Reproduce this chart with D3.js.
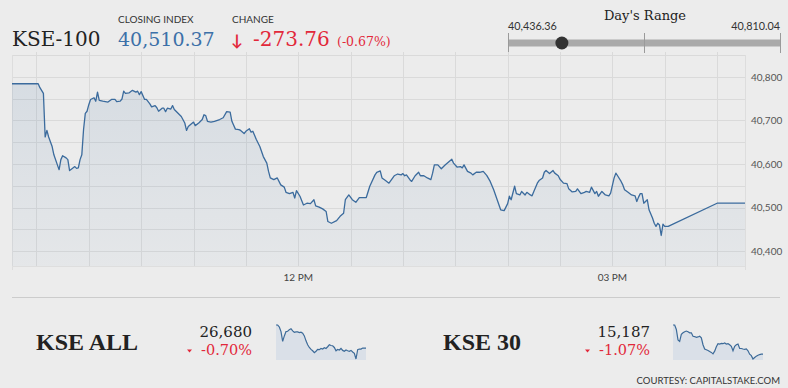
<!DOCTYPE html>
<html lang="en">
<head>
  <meta charset="utf-8">
  <title>KSE-100</title>
  <script src="https://d3js.org/d3.v7.min.js"></script>
  <style>
    body { margin: 0; background: #ececec; }
    svg { display: block; }
    .sans { font-family: Lato, "Open Sans", sans-serif; }
    .serif { font-family: "DejaVu Serif", serif; }
  </style>
</head>
<body>
  <svg id="chart" width="788" height="388"></svg>

<script>
  // intraday KSE-100 points [time, index]
  const kse100 = [
    ["09:16",40784],["09:31",40784],["09:32",40775],["09:34",40762],["09:35",40662],["09:36",40677],["09:37",40662],
    ["09:39",40640],["09:40",40621],["09:42",40598],["09:43",40587],["09:44",40610],["09:45",40619],["09:47",40614],
    ["09:48",40610],["09:49",40585],["09:50",40588],["09:52",40594],["09:53",40590],["09:54",40591],["09:55",40610],
    ["09:56",40621],["09:57",40679],["09:58",40716],["09:59",40721],["10:00",40736],["10:01",40748],["10:03",40752],
    ["10:04",40744],["10:05",40765],["10:06",40746],["10:08",40744],["10:11",40742],["10:13",40748],["10:15",40748],
    ["10:16",40743],["10:18",40744],["10:19",40749],["10:20",40767],["10:21",40762],["10:23",40763],["10:25",40769],
    ["10:27",40765],["10:28",40767],["10:29",40759],["10:30",40766],["10:32",40748],["10:33",40748],["10:35",40738],
    ["10:36",40731],["10:38",40734],["10:39",40729],["10:40",40721],["10:42",40728],["10:43",40728],["10:44",40720],
    ["10:45",40728],["10:47",40726],["10:48",40734],["10:49",40725],["10:51",40717],["10:53",40709],["10:55",40694],
    ["10:56",40677],["10:57",40686],["10:59",40693],["11:00",40696],["11:01",40688],["11:03",40694],["11:05",40702],
    ["11:06",40713],["11:07",40711],["11:08",40698],["11:10",40696],["11:12",40698],["11:15",40702],["11:17",40706],
    ["11:19",40720],["11:21",40719],["11:22",40698],["11:24",40680],["11:26",40679],["11:27",40677],["11:29",40670],
    ["11:30",40675],["11:32",40681],["11:33",40673],["11:34",40675],["11:36",40656],["11:38",40640],["11:40",40617],
    ["11:42",40602],["11:43",40583],["11:44",40568],["11:46",40564],["11:48",40568],["11:50",40552],["11:52",40547],
    ["11:53",40535],["11:55",40532],["11:57",40535],["11:58",40522],["11:59",40539],["12:01",40526],["12:03",40506],
    ["12:05",40510],["12:07",40509],["12:09",40518],["12:10",40504],["12:12",40501],["12:14",40497],["12:16",40491],
    ["12:17",40468],["12:19",40464],["12:22",40470],["12:24",40480],["12:26",40487],["12:27",40518],["12:29",40529],
    ["12:31",40518],["12:33",40512],["12:35",40523],["12:39",40523],["12:41",40549],["12:44",40575],["12:45",40581],
    ["12:47",40584],["12:48",40568],["12:50",40562],["12:52",40556],["12:55",40573],["12:57",40577],["12:59",40575],
    ["13:00",40578],["13:01",40573],["13:02",40575],["13:04",40564],["13:05",40560],["13:07",40573],["13:09",40581],
    ["13:10",40573],["13:12",40573],["13:14",40568],["13:16",40564],["13:17",40579],["13:18",40598],["13:20",40598],
    ["13:22",40589],["13:24",40597],["13:26",40604],["13:28",40611],["13:29",40602],["13:31",40593],["13:33",40594],
    ["13:34",40591],["13:35",40598],["13:37",40583],["13:39",40579],["13:40",40575],["13:42",40581],["13:44",40581],
    ["13:46",40583],["13:48",40574],["13:50",40560],["13:52",40541],["13:54",40518],["13:56",40495],["13:58",40493],
    ["14:00",40509],["14:01",40526],["14:02",40518],["14:04",40549],["14:05",40532],["14:07",40529],["14:08",40537],
    ["14:10",40529],["14:11",40535],["14:13",40529],["14:14",40527],["14:15",40537],["14:17",40556],["14:18",40562],
    ["14:20",40568],["14:21",40581],["14:22",40585],["14:24",40578],["14:26",40585],["14:27",40579],["14:29",40573],
    ["14:30",40565],["14:32",40556],["14:34",40555],["14:35",40543],["14:37",40536],["14:39",40537],["14:40",40543],
    ["14:42",40532],["14:44",40535],["14:45",40537],["14:47",40535],["14:48",40547],["14:50",40532],["14:51",40537],
    ["14:52",40526],["14:54",40537],["14:56",40529],["14:58",40527],["14:59",40533],["15:01",40568],["15:02",40579],
    ["15:03",40573],["15:05",40560],["15:06",40552],["15:07",40541],["15:09",40535],["15:11",40529],["15:13",40527],
    ["15:14",40514],["15:15",40524],["15:16",40532],["15:17",40532],["15:18",40510],["15:20",40518],["15:21",40495],
    ["15:23",40476],["15:24",40464],["15:25",40457],["15:26",40464],["15:27",40460],["15:28",40436],["15:29",40462],
    ["15:30",40457],["15:32",40457],["16:00",40510],["16:16",40510]
  ];

  // sparklines (evenly spaced through the day)
  const kseAll = [26868,26868,26852,26814,26734,26779,26814,26817,26830,26838,26820,26809,26812,26812,26806,26809,
    26801,26779,26739,26707,26685,26669,26658,26642,26654,26669,26667,26677,26672,26683,26677,26691,26707,26701,
    26699,26685,26658,26669,26664,26677,26661,26654,26664,26658,26654,26661,26648,26637,26591,26667,26672,26672,
    26680,26680,26680];
  const kse30 = [15351,15351,15326,15267,15259,15298,15307,15313,15317,15313,15307,15307,15288,15286,15282,15284,
    15288,15279,15240,15216,15212,15208,15202,15197,15189,15204,15229,15246,15244,15248,15246,15250,15244,15246,
    15240,15231,15206,15231,15240,15244,15219,15219,15216,15214,15217,15206,15187,15179,15160,15168,15176,15181,
    15185,15187,15187];

  const yTicks = [40400, 40500, 40600, 40700, 40800];
  const yGrid = [40400, 40450, 40500, 40550, 40600, 40650, 40700, 40750, 40800, 40850];
  const xLabels = [["12:00", "12 PM"], ["15:00", "03 PM"]];

  const closeIdx = 40510.37, change = -273.76, changePct = -0.67;
  const dayLow = 40436.36, dayHigh = 40810.04;

  const blue = "#3b6b9d", red = "#e2283a";
  const parseTime = d3.timeParse("%H:%M");
  const data = kse100.map(d => ({ t: parseTime(d[0]), v: d[1] }));

  const svg = d3.select("#chart");

  // ---- header ----
  svg.append("text").attr("class", "serif").attr("x", 12).attr("y", 46)
    .attr("font-size", 20).attr("fill", "#222").text("KSE-100");
  svg.append("text").attr("class", "sans").attr("x", 118).attr("y", 22.5)
    .attr("font-size", 10).attr("fill", "#333").text("CLOSING INDEX");
  svg.append("text").attr("class", "serif").attr("x", 118).attr("y", 46)
    .attr("font-size", 19).attr("fill", "#3c70a8").text(d3.format(",.2f")(closeIdx));
  svg.append("text").attr("class", "sans").attr("x", 232).attr("y", 22.5)
    .attr("font-size", 10).attr("fill", "#333").text("CHANGE");
  svg.append("text").attr("class", "sans").attr("x", 231).attr("y", 46)
    .attr("font-size", 16).attr("font-weight", "bold").attr("fill", red).text("↓");
  svg.append("text").attr("class", "serif").attr("x", 253).attr("y", 46)
    .attr("font-size", 20).attr("fill", red).text("-" + Math.abs(change).toFixed(2));
  svg.append("text").attr("class", "serif").attr("x", 337).attr("y", 46)
    .attr("font-size", 12.5).attr("fill", red).text("(" + changePct.toFixed(2) + "%)");

  // ---- day's range ----
  const r = d3.scaleLinear().domain([dayLow, dayHigh]).range([508, 780]);
  svg.append("text").attr("class", "serif").attr("x", 645).attr("y", 20)
    .attr("text-anchor", "middle").attr("font-size", 13).attr("fill", "#222").text("Day's Range");
  svg.append("text").attr("class", "sans").attr("x", r(dayLow)).attr("y", 29.5)
    .attr("font-size", 10.8).attr("fill", "#333").text(d3.format(",.2f")(dayLow));
  svg.append("text").attr("class", "sans").attr("x", r(dayHigh)).attr("y", 29.5)
    .attr("text-anchor", "end").attr("font-size", 10.8).attr("fill", "#333").text(d3.format(",.2f")(dayHigh));
  svg.append("rect").attr("x", r(dayLow)).attr("y", 39.5).attr("width", r(dayHigh) - r(dayLow)).attr("height", 7)
    .attr("fill", "#aaaaaa");
  svg.selectAll(".rtick")
    .data([dayLow, (dayLow + dayHigh) / 2, dayHigh])
    .enter().append("line")
      .attr("x1", d => Math.round(r(d)) + 0.5).attr("x2", d => Math.round(r(d)) + 0.5)
      .attr("y1", 33).attr("y2", 53)
      .attr("stroke", "#9a9a9a");
  svg.append("circle").attr("cx", r(closeIdx)).attr("cy", 43).attr("r", 6.5).attr("fill", "#333");

  // ---- main chart ----
  const x = d3.scaleTime().domain([parseTime("09:16"), parseTime("16:16")]).range([12, 745]);
  const y = d3.scaleLinear().domain([40366, 40850]).range([266, 55]);

  const defs = svg.append("defs");
  const grad = defs.append("linearGradient").attr("id", "fillGrad")
    .attr("x1", 0).attr("y1", 0).attr("x2", 0).attr("y2", 1);
  grad.append("stop").attr("offset", "0%").attr("stop-color", blue).attr("stop-opacity", 0.12);
  grad.append("stop").attr("offset", "100%").attr("stop-color", blue).attr("stop-opacity", 0.04);

  // grid
  const grid = svg.append("g");
  grid.selectAll(".hg").data(yGrid).enter().append("line")
    .attr("x1", 12).attr("x2", 745)
    .attr("y1", d => Math.round(y(d)) + 0.5).attr("y2", d => Math.round(y(d)) + 0.5)
    .attr("stroke", "#dadada");
  grid.selectAll(".vg").data(x.ticks(d3.timeMinute.every(30))).enter().append("line")
    .attr("x1", d => Math.round(x(d)) + 0.5).attr("x2", d => Math.round(x(d)) + 0.5)
    .attr("y1", 52).attr("y2", 266)
    .attr("stroke", "#dadada");
  grid.selectAll(".edge").data([12, 745]).enter().append("line")
    .attr("x1", d => d + 0.5).attr("x2", d => d + 0.5).attr("y1", 55).attr("y2", 270)
    .attr("stroke", "#dddddd");
  grid.append("line").attr("x1", 12).attr("x2", 745).attr("y1", 266.5).attr("y2", 266.5)
    .attr("stroke", "#dedede");

  const area = d3.area().x(d => x(d.t)).y0(266).y1(d => y(d.v));
  const line = d3.line().x(d => x(d.t)).y(d => y(d.v));

  svg.append("path").datum(data).attr("d", area).attr("fill", "url(#fillGrad)");
  svg.append("path").datum(data).attr("d", line)
    .attr("fill", "none").attr("stroke", blue).attr("stroke-width", 1.3).attr("stroke-linejoin", "round");

  // y axis labels
  svg.append("g")
    .attr("class", "sans")
    .attr("transform", "translate(745,0)")
    .call(d3.axisRight(y).tickValues(yTicks).tickFormat(d3.format(",")).tickSize(0).tickPadding(6))
    .call(g => g.select(".domain").remove())
    .call(g => g.selectAll("text").attr("font-family", "Lato").attr("font-size", 10).attr("fill", "#555"));

  // x labels
  svg.selectAll(".xl").data(xLabels).enter().append("text")
    .attr("class", "sans")
    .attr("x", d => x(parseTime(d[0]))).attr("y", 281)
    .attr("text-anchor", "middle").attr("font-size", 10).attr("fill", "#444")
    .text(d => d[1]);

  // ---- bottom strip ----
  svg.append("line").attr("x1", 12).attr("x2", 780).attr("y1", 297.5).attr("y2", 297.5).attr("stroke", "#cccccc");

  function spark(values, x0) {
    const sx = d3.scaleLinear().domain([0, values.length - 1]).range([x0, x0 + 90]);
    const sy = d3.scaleLinear().domain(d3.extent(values)).range([359, 325]);
    svg.append("path").datum(values)
      .attr("d", d3.area().x((d, i) => sx(i)).y0(360).y1(d => sy(d)))
      .attr("fill", "#dae0e8");
    svg.append("path").datum(values)
      .attr("d", d3.line().x((d, i) => sx(i)).y(d => sy(d)))
      .attr("fill", "none").attr("stroke", "#3d6b99").attr("stroke-width", 1.2);
  }

  const minis = [
    { name: "KSE ALL", last: 26680, pct: -0.70, values: kseAll, nx: 36, vx: 252, sx: 276 },
    { name: "KSE 30", last: 15187, pct: -1.07, values: kse30, nx: 443, vx: 650, sx: 673 }
  ];
  minis.forEach(m => {
    svg.append("text").attr("x", m.nx).attr("y", 350)
      .attr("font-family", "Liberation Serif").attr("font-weight", "bold")
      .attr("font-size", 24).attr("fill", "#222").text(m.name);
    svg.append("text").attr("class", "serif").attr("x", m.vx).attr("y", 337)
      .attr("text-anchor", "end").attr("font-size", 15).attr("fill", "#222").text(d3.format(",")(m.last));
    svg.append("text").attr("class", "serif").attr("x", m.vx).attr("y", 355)
      .attr("text-anchor", "end").attr("font-size", 14.5).attr("fill", red).text(m.pct.toFixed(2) + "%");
    svg.append("path")
      .attr("d", `M${m.vx - 65},349.5 l5,0 l-2.5,3 z`).attr("fill", red);
    spark(m.values, m.sx);
  });

  svg.append("text").attr("class", "sans").attr("x", 780).attr("y", 383.5)
    .attr("text-anchor", "end").attr("font-size", 9.5).attr("fill", "#333").text("COURTESY: CAPITALSTAKE.COM");
</script>
</body>
</html>
